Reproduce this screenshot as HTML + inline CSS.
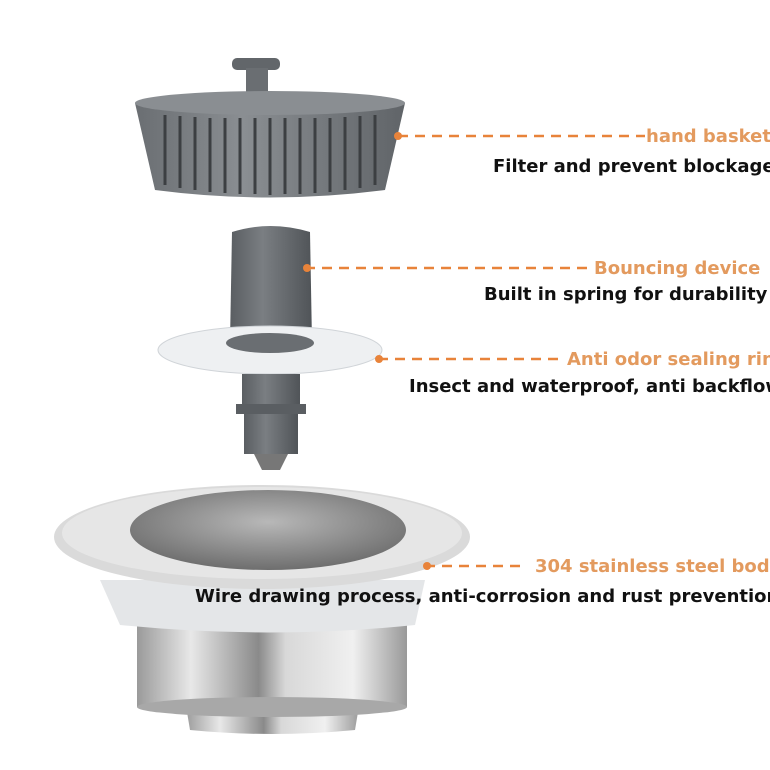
<!DOCTYPE html>
<html><head><style>body{margin:0;background:#fff}svg{display:block}</style></head><body>
<svg width="770" height="770" xmlns="http://www.w3.org/2000/svg">
<defs>
<linearGradient id="st" x1="0" x2="1"><stop offset="0" stop-color="#9a9a9a"/><stop offset=".2" stop-color="#e8e8e8"/><stop offset=".45" stop-color="#8a8a8a"/><stop offset=".55" stop-color="#d8d8d8"/><stop offset=".8" stop-color="#f0f0f0"/><stop offset="1" stop-color="#999"/></linearGradient>
<radialGradient id="in" cx=".5" cy=".4" r=".6"><stop offset="0" stop-color="#b8b8b8"/><stop offset="1" stop-color="#6e6e6e"/></radialGradient>
<linearGradient id="gr" x1="0" x2="1"><stop offset="0" stop-color="#5a5e62"/><stop offset=".4" stop-color="#7a7e82"/><stop offset="1" stop-color="#505458"/></linearGradient>
<linearGradient id="gb" x1="0" x2="1"><stop offset="0" stop-color="#6a6e72"/><stop offset=".4" stop-color="#8a8e92"/><stop offset="1" stop-color="#606468"/></linearGradient>
</defs>
<rect x="232" y="58" width="48" height="12" rx="5" fill="#62666a"/>
<rect x="246" y="68" width="22" height="26" fill="#6a6e72"/>
<path d="M135 103 L405 103 L385 190 Q270 205 155 190 Z" fill="url(#gb)"/>
<ellipse cx="270" cy="103" rx="135" ry="12" fill="#8a8e92"/>
<g stroke="#3c3f42" stroke-width="3">
<path d="M165 115V185M180 116V188M195 117V190M210 118V192M225 118V193M240 118V194M255 118V194M270 118V195M285 118V194M300 118V194M315 118V193M330 118V192M345 117V190M360 116V188M375 115V185"/>
</g>
<path d="M232 232 Q270 220 310 232 L312 342 L230 342 Z" fill="url(#gr)"/>
<ellipse cx="270" cy="350" rx="112" ry="24" fill="#eef0f2" stroke="#d0d4d8"/>
<ellipse cx="270" cy="343" rx="44" ry="10" fill="#6a6e72"/>
<rect x="242" y="374" width="58" height="30" fill="url(#gr)"/>
<rect x="236" y="404" width="70" height="10" fill="#5a5e62"/>
<rect x="244" y="414" width="54" height="40" fill="url(#gr)"/>
<path d="M254 454 L288 454 L280 470 L262 470 Z" fill="#777"/>
<path d="M185 700 L360 700 L355 730 Q272 738 190 730 Z" fill="url(#st)"/>
<rect x="137" y="615" width="270" height="92" fill="url(#st)"/>
<ellipse cx="272" cy="707" rx="135" ry="10" fill="#a8a8a8"/>
<path d="M100 580 L425 580 L415 625 Q270 640 120 625 Z" fill="#e4e6e8"/>
<ellipse cx="262" cy="537" rx="208" ry="52" fill="#dadada"/>
<ellipse cx="262" cy="533" rx="200" ry="46" fill="#e6e6e6"/>
<ellipse cx="268" cy="530" rx="138" ry="40" fill="url(#in)"/>
<g stroke="#e8833a" stroke-width="2.5" stroke-dasharray="10 7" fill="none">
<line x1="398" y1="136" x2="645" y2="136"/>
<line x1="305" y1="268" x2="592" y2="268"/>
<line x1="378" y1="359" x2="565" y2="359"/>
<line x1="425" y1="566" x2="525" y2="566"/>
</g>
<g fill="#e8833a"><circle cx="398" cy="136" r="4"/><circle cx="307" cy="268" r="4"/><circle cx="379" cy="359" r="4"/><circle cx="427" cy="566" r="4"/></g>
<g font-family="DejaVu Sans, Liberation Sans, sans-serif" font-weight="bold" font-size="18">
<g fill="#e39a5e">
<text x="646" y="142">hand basket</text>
<text x="594" y="274">Bouncing device</text>
<text x="567" y="365">Anti odor sealing ring</text>
<text x="535" y="572">304 stainless steel body</text>
</g>
<g fill="#111">
<text x="493" y="172">Filter and prevent blockage</text>
<text x="484" y="300">Built in spring for durability</text>
<text x="409" y="392">Insect and waterproof, anti backflow</text>
<text x="195" y="602">Wire drawing process, anti-corrosion and rust prevention</text>
</g></g>
</svg>
</body></html>
